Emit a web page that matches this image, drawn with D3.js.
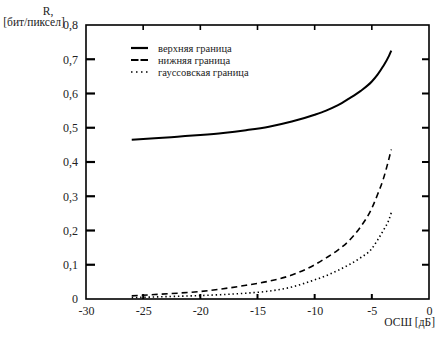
<!DOCTYPE html>
<html>
<head>
<meta charset="utf-8">
<script src="https://cdn.jsdelivr.net/npm/d3@7"></script>
<style>
  html, body { margin: 0; padding: 0; background: #fff; }
  svg { display: block; }
</style>
</head>
<body>
<svg id="chart" width="440" height="338"></svg>
<script>
// SNR grid, dB
const snr = [-26, -24, -22, -20, -18, -16, -14, -12, -10, -9, -8, -7, -6, -5, -4.5, -4, -3.5, -3.3];
// Rate bounds, bit/pixel
const upperBound = [0.465, 0.469, 0.474, 0.479, 0.485, 0.493, 0.503, 0.518, 0.538, 0.550, 0.565, 0.585, 0.607, 0.635, 0.655, 0.680, 0.710, 0.725];
const lowerBound = [0.009, 0.013, 0.017, 0.022, 0.030, 0.040, 0.052, 0.070, 0.100, 0.120, 0.142, 0.170, 0.210, 0.265, 0.305, 0.350, 0.410, 0.437];
const gaussBound = [0.004, 0.006, 0.008, 0.010, 0.013, 0.017, 0.023, 0.035, 0.056, 0.068, 0.083, 0.100, 0.120, 0.147, 0.172, 0.200, 0.232, 0.252];

const xTicks = [-30, -25, -20, -15, -10, -5, 0];
const yTicks = [0, 0.1, 0.2, 0.3, 0.4, 0.5, 0.6, 0.7, 0.8];

const seriesNames = ["верхняя граница", "нижняя граница", "гауссовская граница"];
const seriesDash = [null, "6,4", "1.4,2.8"];
const seriesData = [upperBound, lowerBound, gaussBound];

const FONT = "Liberation Serif";

const svg = d3.select("#chart");
const L = 86, R = 429, T = 25, B = 299;

const x = d3.scaleLinear().domain([-30, 0]).range([L, R]);
const y = d3.scaleLinear().domain([0, 0.8]).range([B, T]);

const fmt = v => (v === 0 ? "0" : d3.format(".1f")(v).replace(".", ","));

// frame
svg.append("rect")
  .attr("x", L).attr("y", T).attr("width", R - L).attr("height", B - T)
  .attr("fill", "none").attr("stroke", "#000").attr("stroke-width", 1.6);

// left axis: labels outside, ticks drawn inward below
const gl = svg.append("g").attr("transform", `translate(${L},0)`)
  .call(d3.axisLeft(y).tickValues(yTicks).tickFormat(fmt).tickSize(0).tickPadding(8));
gl.select(".domain").remove();
gl.attr("font-family", FONT).attr("font-size", 12);
gl.selectAll(".tick text").attr("fill", "#222");
svg.append("g").selectAll("line").data(yTicks.filter(v => v > 0 && v < 0.8)).join("line")
  .attr("x1", L).attr("x2", L + 9)
  .attr("y1", d => y(d)).attr("y2", d => y(d))
  .attr("stroke", "#000").attr("stroke-width", 2.2);
// right axis ticks
svg.append("g").selectAll("line").data(yTicks.filter(v => v > 0 && v < 0.8)).join("line")
  .attr("x1", R).attr("x2", R - 7)
  .attr("y1", d => y(d)).attr("y2", d => y(d))
  .attr("stroke", "#000").attr("stroke-width", 2);

// bottom axis
const gb = svg.append("g").attr("transform", `translate(0,${B})`)
  .call(d3.axisBottom(x).tickValues(xTicks).tickFormat(d => String(d)).tickSize(0).tickPadding(7));
gb.select(".domain").remove();
gb.attr("font-family", FONT).attr("font-size", 12);
gb.selectAll(".tick text").attr("fill", "#222");
svg.append("g").selectAll("line").data(xTicks.slice(1, -1)).join("line")
  .attr("x1", d => x(d)).attr("x2", d => x(d))
  .attr("y1", B).attr("y2", B - 5)
  .attr("stroke", "#000").attr("stroke-width", 2);
svg.append("g").selectAll("line").data(xTicks.slice(1, -1)).join("line")
  .attr("x1", d => x(d)).attr("x2", d => x(d))
  .attr("y1", T).attr("y2", T + 5)
  .attr("stroke", "#000").attr("stroke-width", 1.6);

// axis titles
const titles = svg.append("g").attr("font-family", FONT).attr("font-size", 11.5).attr("fill", "#222");
titles.append("text").attr("x", 48).attr("y", 15).attr("text-anchor", "middle").text("R,");
titles.append("text").attr("x", 34).attr("y", 26).attr("text-anchor", "middle").text("[бит/пиксел]");
titles.append("text").attr("x", 435).attr("y", 326).attr("text-anchor", "end").text("ОСШ [дБ]");

// curves
const line = d3.line().x((d, i) => x(snr[i])).y(d => y(d)).curve(d3.curveMonotoneX);
seriesData.forEach((vals, k) => {
  svg.append("path").datum(vals)
    .attr("d", line)
    .attr("fill", "none")
    .attr("stroke", "#000")
    .attr("stroke-width", k === 0 ? 2 : 1.6)
    .attr("stroke-dasharray", seriesDash[k]);
});

// legend
const lg = svg.append("g").attr("font-family", FONT).attr("font-size", 10.5).attr("fill", "#222");
seriesNames.forEach((name, k) => {
  const yy = 48 + k * 12;
  lg.append("line").attr("x1", 131).attr("x2", 148).attr("y1", yy).attr("y2", yy)
    .attr("stroke", "#000").attr("stroke-width", k === 2 ? 1.3 : 2.2)
    .attr("stroke-dasharray", k === 0 ? null : (k === 1 ? "7.5,2" : "1.5,3.5"));
  lg.append("text").attr("x", 158).attr("y", yy + 3.5).text(name);
});
</script>
</body>
</html>
